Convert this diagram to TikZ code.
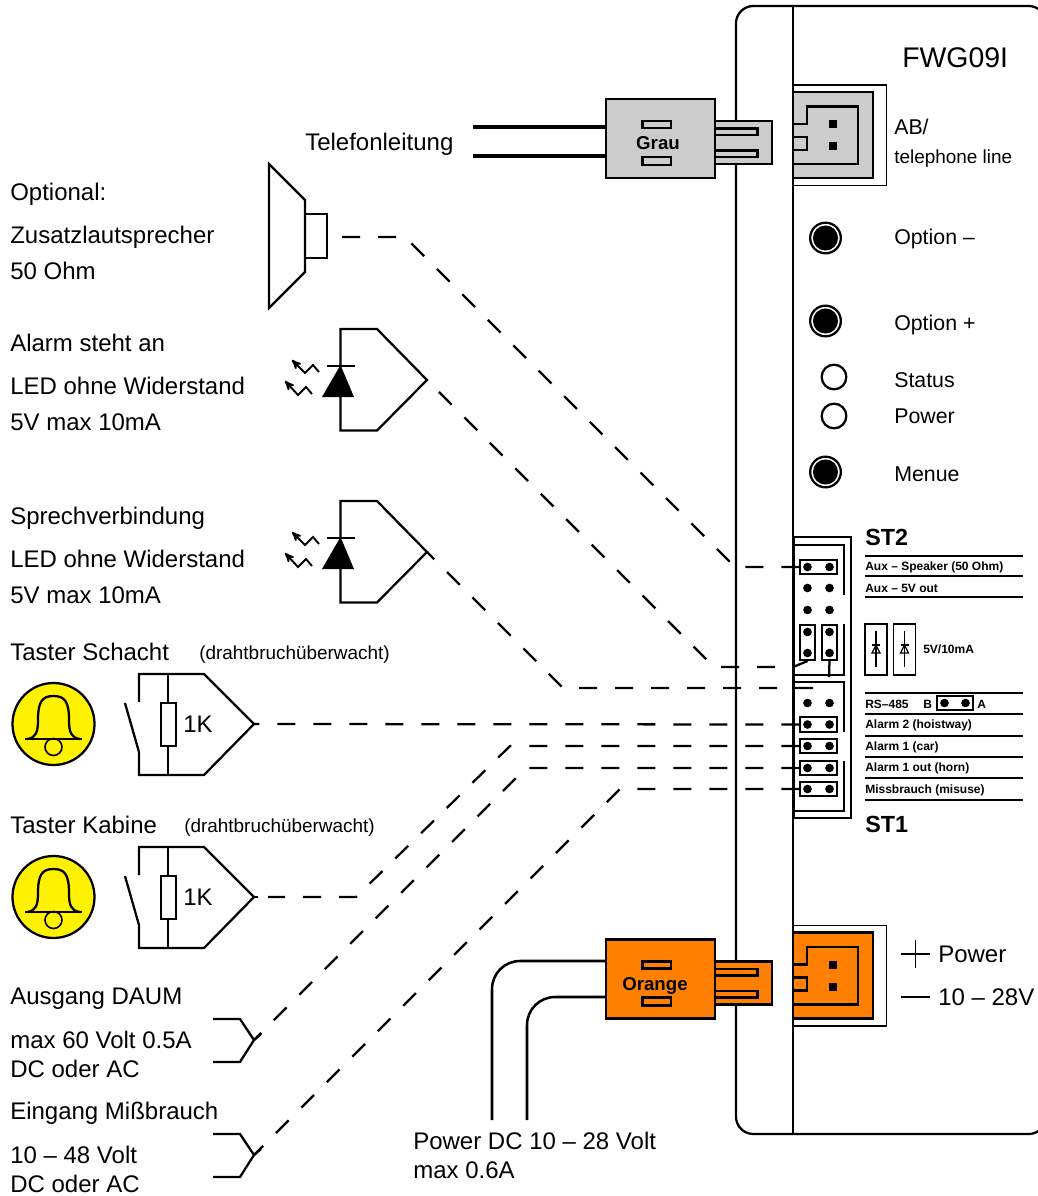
\documentclass[tikz,border=0pt]{standalone}
\usepackage{fontspec}
\setmainfont{Liberation Sans}
\usetikzlibrary{arrows,fit}
\definecolor{Grau}{rgb}{0.8, 0.8, 0.8}
\definecolor{Orange}{rgb}{1, 0.5, 0}
\tikzset{
    lbl/.style={anchor=base west, inner sep=0pt, font=\fontsize{18}{20}\selectfont},
    lblsmall/.style={anchor=base west, inner sep=0pt, font=\fontsize{14.2}{16}\selectfont},
    lblmid/.style={anchor=base west, inner sep=0pt, font=\fontsize{16}{18}\selectfont},
    tagbold/.style={anchor=base west, inner sep=0pt, font=\fontsize{9}{10}\selectfont\bfseries},
    stlabel/.style={anchor=base west, inner sep=0pt, font=\fontsize{17.5}{20}\selectfont\bfseries},
    part/.style={draw, line width=1.7pt},
    thinpart/.style={draw, line width=1pt},
    wire/.style={line width=1.7pt, dash pattern=on 13.5pt off 13.5pt},
    cable/.style={line width=3pt},
    powercable/.style={line width=1.9pt, rounded corners=21pt},
    pindot/.style={circle, fill, inner sep=0pt, minimum size=6.5pt},
    jumper/.style={draw, line width=1.2pt, inner sep=2pt},
    plugbox/.style={draw, line width=1.7pt, inner sep=0pt, minimum width=81.75pt, minimum height=59.25pt},
    btnring/.style={circle, draw, line width=1.7pt, fill=white, inner sep=0pt, minimum size=23pt},
    btncore/.style={circle, fill, inner sep=0pt, minimum size=18.8pt},
    lamp/.style={circle, draw, line width=1.7pt, fill=white, inner sep=0pt, minimum size=18.5pt},
}

% plug and socket, arguments: y offset, colour, name, text, text x
\newcommand{\plugset}[5]{
    \begin{scope}[shift={(0,#1)}]
        % outer and inner socket frame
        \draw[line width=1.3pt, fill=white] (793,85) -- (886.5,85) -- (886.5,185.5) -- (793,185.5);
        \draw[part, fill=#2] (793,92) -- (873,92) -- (873,178) -- (793,178);
        \draw[part] (793,124) -- (807,124) -- (807,106.5) -- (858,106.5) -- (858,164) -- (793,164);
        \draw[part] (793,137) -- (807,137) -- (807,150) -- (793,150);
        \draw[line width=2pt] (793,85) -- (793,185.5);
        \fill (829,120) rectangle (837,128);
        \fill (829,142) rectangle (837,150);
        % blade of the plug
        \draw[part, fill=#2] (715,121) -- (772,121) -- (772,164) -- (715,164);
        \draw[part] (715,128.5) -- (757.5,128.5) -- (757.5,135) -- (715,135);
        \draw[part] (715,150.5) -- (757.5,150.5) -- (757.5,157) -- (715,157);
        % body of the plug
        \node[plugbox, fill=#2] (#3) at (660.5,138.5) {};
        \draw[part] (642.5,121) rectangle (671,128);
        \draw[part] (642.5,157) rectangle (671,165);
        \node[anchor=base, inner sep=0pt, font=\fontsize{14}{16}\selectfont\bfseries] (#3txt) at (#5,149.5) {#4};
    \end{scope}
}

% light diode with its contact, argument: y offset, name
\newcommand{\ledset}[2]{
    \begin{scope}[shift={(0,#1)}]
        \coordinate (#2) at (427,380);
        \draw[part] (340.5,366) -- (340.5,329) -- (377,329) -- (#2) -- (377,430.5) -- (340.5,430.5) -- (340.5,396);
        \draw[part] (327,366) -- (355,366);
        \fill (340.5,365) -- (354,397) -- (322,397) -- cycle;
        \draw[line width=1.4pt, -stealth'] (319,372) -- (313,365) -- (305,373) -- (292,360);
        \draw[line width=1.4pt, -stealth'] (312,394) -- (306,387) -- (298,395) -- (285,381);
    \end{scope}
}

% bell and switch with resistor, argument: y offset, name
\newcommand{\tasterset}[2]{
    \begin{scope}[shift={(0,#1)}]
        \coordinate (#2) at (254,724);
        \coordinate (#2tick) at (258,724);
        % the bell
        \draw[part, fill=yellow] (53.5,724) circle (41);
        \draw[line width=1.2pt] (53.5,747) circle (8.5);
        \draw[part] (27,739) .. controls (36,738) and (38,732) .. (38,720) .. controls (38,702) and (42,696) .. (53.5,696) .. controls (65,696) and (69,702) .. (69,720) .. controls (69,732) and (71,738) .. (80,739);
        \draw[part] (25,739) -- (82,739);
        % the contact
        \draw[part] (139,702) -- (139,674) -- (204,674) -- (#2) -- (204,775) -- (139,775) -- (139,752) -- (125,703);
        \draw[part] (#2) -- (#2tick);
        \draw[part] (168,674) -- (168,775);
        \draw[part, fill=white] (161,703) rectangle (176,746);
        \node[lbl] (#2txt) at (183,732) {1K};
    \end{scope}
}

% open contact pair, argument: y offset, name
\newcommand{\inputset}[2]{
    \begin{scope}[shift={(0,#1)}]
        \coordinate (#2) at (254,1040);
        \draw[part] (213,1019) -- (240,1019) -- (#2) -- (240,1062) -- (213,1062);
        \draw[part] (#2) -- (261,1034);
    \end{scope}
}

\begin{document}
\begin{tikzpicture}[x=0.75pt, y=-0.75pt]
    \useasboundingbox (0,0) rectangle (1038,1196);

    % Draw the housing
    \draw[part, rounded corners=13pt] (736,6) rectangle (1046,1134);
    \draw[part] (793,6) -- (793,1134);

    % Draw the texts on the left
    \foreach \x/\y/\t[count=\c] in {305/150/Telefonleitung, 10/200/Optional:, 10/243/Zusatzlautsprecher, 10/279/50 Ohm,
        10/351/Alarm steht an, 10/394/LED ohne Widerstand, 10/430/5V max 10mA,
        10/524/Sprechverbindung, 10/567/LED ohne Widerstand, 10/603/5V max 10mA,
        10/660/Taster Schacht, 10/833/Taster Kabine,
        10/1004/Ausgang DAUM, 10/1048/max 60 Volt 0.5A, 10/1077/DC oder AC,
        10/1119/Eingang Mißbrauch, 10/1163/10 – 48 Volt, 10/1192/DC oder AC,
        413/1149/Power DC 10 – 28 Volt, 413/1178/max 0.6A,
        938/962/Power, 938/1005/10 – 28V}{
        \node[lbl] (txt\c) at (\x,\y) {\t};
    }
    \node[lblsmall] (wacht1) at (199,659) {(drahtbruchüberwacht)};
    \node[lblsmall] (wacht2) at (184,832) {(drahtbruchüberwacht)};

    % Draw the texts of the device
    \node[anchor=base west, inner sep=0pt, font=\fontsize{21.3}{24}\selectfont] (devname) at (902,67) {FWG09I};
    \node[lblmid] (abtxt) at (894,134) {AB/};
    \node[lblsmall] (teltxt) at (894,163) {telephone line};
    \foreach \y/\t[count=\c] in {244/Option --, 330/Option +, 387/Status, 423/Power, 481/Menue}{
        \node[lblmid] (opt\c) at (894,\y) {\t};
    }

    % Draw the buttons and lamps
    \foreach \y[count=\c] in {238, 321, 472}{
        \node[btnring] (ring\c) at (825.5,\y) {};
        \node[btncore] (btn\c) at (825.5,\y) {};
    }
    \foreach \y[count=\c] in {377, 416}{
        \node[lamp] (lamp\c) at (834,\y) {};
    }

    % Draw the plugs
    \plugset{0}{Grau}{grau}{Grau}{658}
    \plugset{840.5}{Orange}{orange}{Orange}{655}

    % Draw the cables
    \coordinate (tela) at (473,127);
    \coordinate (telb) at (473,156);
    \draw[cable] (tela) -- (tela -| grau.west);
    \draw[cable] (telb) -- (telb -| grau.west);
    \coordinate (pwra) at (492,1120);
    \coordinate (pwrb) at (527,1120);
    \coordinate (pwrc) at (492,961);
    \coordinate (pwrd) at (527,997);
    \draw[powercable] (pwra) -- (pwrc) -- (pwrc -| orange.west);
    \draw[powercable] (pwrb) -- (pwrd) -- (pwrd -| orange.west);

    % Draw the speaker
    \draw[part] (269,164) -- (305,200) -- (305,272) -- (269,308) -- cycle;
    \draw[part] (305,214) rectangle (327,258);
    \coordinate (spk) at (342,237);

    % Draw the symbols on the left
    \ledset{0}{leda}
    \ledset{172}{ledb}
    \tasterset{0}{tasta}
    \tasterset{173}{tastb}
    \inputset{0}{ina}
    \inputset{115}{inb}

    % Draw the frames of the pin header
    \draw[part] (793,537) -- (851,537) -- (851,818) -- (793,818);
    \draw[part] (793,545) -- (844,545) -- (844,595);
    \draw[part] (844,624) -- (844,675) -- (793,675);
    \draw[part] (793,682) -- (844,682) -- (844,732);
    \draw[part] (844,761) -- (844,811) -- (793,811);
    \draw[line width=2.4pt] (793.5,537) -- (793.5,818);

    % Draw the pins
    \foreach \y[count=\c] in {567, 588, 610, 632, 653, 703, 724.5, 746, 768, 789}{
        \node[pindot] (l\c) at (807.5,\y) {};
        \node[pindot] (r\c) at (829.5,\y) {};
    }
    \node[jumper, fit=(l1) (r1)] (jpa) {};
    \node[jumper, fit=(l4) (l5)] (jpb) {};
    \node[jumper, fit=(r4) (r5)] (jpc) {};
    \foreach \c in {7, 8, 9, 10}{
        \node[jumper, fit=(l\c) (r\c)] (jp\c) {};
    }
    \draw[part] (jpc.south) -- (829,677);

    % Draw the dashed lines
    \draw[wire] (jpa.west) -- (735,567) -- (405,237) -- (spk);
    \coordinate (kink) at (793,667);
    \draw[part] (jpb.south) -- (kink);
    \draw[wire, dash phase=13.5pt] (kink) -- (714,667) -- (leda);
    \coordinate (endb) at (813,688);
    \draw[wire] (endb) -- (563,688) -- (ledb);
    \draw[wire] (jp7.west) -- (tasta);
    \coordinate (tastc) at (268,897);
    \draw[wire] (jp8.west) -- (510,746) -- (356,897) -- (tastc);
    \draw[wire] (jp9.west) -- (526,768) -- (ina);
    \draw[wire] (jp10.west) -- (620,789) -- (inb);

    % Draw the labels of the pin header
    \foreach \y[count=\c] in {556, 576, 597, 693, 714, 736, 757, 778, 800}{
        \coordinate (sa\c) at (865,\y);
        \coordinate (sb\c) at (1023,\y);
        \draw[thinpart] (sa\c) -- (sb\c);
    }
    \node[stlabel] (sttwo) at (865,545) {ST2};
    \node[stlabel] (stone) at (865,832) {ST1};
    \foreach \y/\t[count=\c] in {570/Aux -- Speaker (50 Ohm), 592/Aux -- 5V out, 708/RS--485, 728/Alarm 2 (hoistway),
        750/Alarm 1 (car), 771/Alarm 1 out (horn), 793/Missbrauch (misuse)}{
        \node[tagbold] (tag\c) at (865,\y) {\t};
    }
    \node[tagbold] (tagb) at (923,708.5) {B};
    \node[tagbold] (taga) at (977,708.5) {A};
    \node[pindot] (rsb) at (944.5,703) {};
    \node[pindot] (rsa) at (965.5,703) {};
    \node[jumper, fit=(rsb) (rsa)] (jprs) {};

    % Draw the diodes beside the pin header
    \foreach \x[count=\c] in {876, 904.5}{
        \draw[line width=1.1pt] (\x-11,624) rectangle (\x+11,675);
        \draw[line width=0.9pt] (\x,631) -- (\x,667);
        \draw[line width=0.9pt] (\x-4,645) -- (\x+4,645);
        \draw[line width=0.9pt] (\x,645) -- (\x+4,653) -- (\x-4,653) -- cycle;
    }
    \node[tagbold] (tagled) at (923,653) {5V/10mA};

    % Draw the power signs
    \coordinate (plusw) at (901,954);
    \coordinate (pluse) at (930,954);
    \coordinate (plusn) at (915.5,940);
    \coordinate (pluss) at (915.5,968);
    \coordinate (minw) at (901,997);
    \coordinate (mine) at (930,997);
    \draw[line width=0.8pt] (plusw) -- (pluse);
    \draw[line width=0.8pt] (plusn) -- (pluss);
    \draw[line width=0.8pt] (minw) -- (mine);
\end{tikzpicture}
\end{document}
